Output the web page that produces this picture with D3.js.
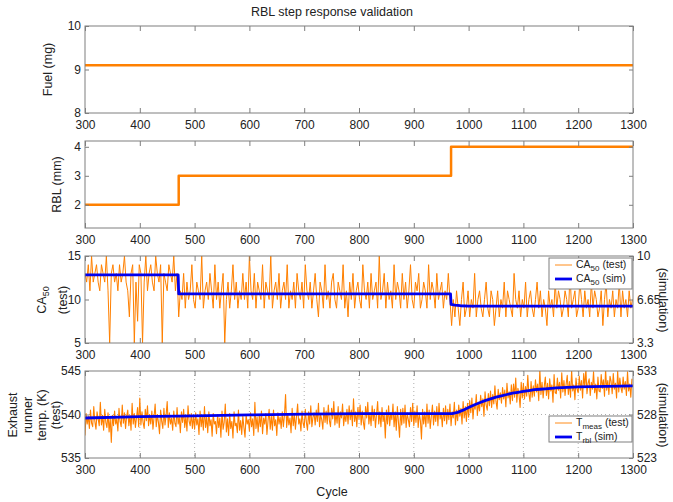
<!DOCTYPE html>
<html>
<head>
<meta charset="utf-8">
<script src="https://cdn.jsdelivr.net/npm/d3@7"></script>
<style>
body { margin: 0; background: #fff; }
svg { font-family: "Liberation Sans", Arial, sans-serif; }
</style>
</head>
<body>
<svg id="chart" width="673" height="502"></svg>
<script>
// tick labels
const xTicks = [300, 400, 500, 600, 700, 800, 900, 1000, 1100, 1200, 1300];
const fuelTicks = [8, 9, 10];
const rblTicks = [2, 3, 4];
const caTicks = [5, 10, 15];
const caSimTicks = [3.3, 6.65, 10];
const tempTicks = [535, 540, 545];
const tempSimTicks = [523, 528, 533];

// fuel and RBL commands
const fuelCycles = [300, 1300];
const fuelValues = [9.1, 9.1];
const rblCycles = [300, 471, 471, 968, 968, 1300];
const rblValues = [2, 2, 3, 3, 4, 4];

// measured CA50, one sample every 3 cycles from 300
const caStep = 3;
const caTest = [
  13, 12, 14, 11, 15, 12, 13, 14, 12, 11,
  14, 13, 12, 15, 11, 5, 13, 14, 12, 13,
  11, 14, 12, 13, 15, 12, 11, 8, 13, 14,
  5, 12, 7.5, 14, 13, 5, 12, 15, 11, 13,
  14, 12, 11, 15, 13, 12, 14, 5, 13, 12,
  11, 14, 13, 12, 15, 11, 13,
  8, 11, 10, 13, 9, 12, 10, 11, 14, 10,
  9, 12, 11, 10, 15, 9, 11, 12, 10, 13,
  11, 9, 14, 10, 12, 9, 11, 13, 5, 10,
  12, 9, 11, 14, 10, 12, 9, 11, 10, 13,
  10, 12, 9, 15, 11, 10, 13, 9, 12, 11,
  10, 14, 9, 12, 11, 10, 15, 9, 11, 12,
  10, 13, 9, 11, 12, 10, 14, 9, 11, 10,
  12, 9, 13, 11, 10, 12, 9, 14, 11, 10,
  12, 9, 11, 13, 10, 8, 12, 11, 9, 14,
  10, 11, 9, 12, 13, 10, 9, 12, 11, 10,
  14, 9, 11, 8, 12, 10, 13, 9, 11, 12,
  10, 9, 14, 11, 10, 12, 9, 13, 10, 11,
  12, 9, 15, 10, 11, 13, 9, 12, 10, 11,
  9, 14, 10, 12, 11, 9, 13, 10, 12, 9,
  11, 14, 10, 9, 12, 11, 13, 9, 10, 12,
  11, 9, 14, 10, 12, 11, 9, 13, 10, 11,
  12, 9, 11, 10, 13, 10,
  7, 10, 8, 11, 9, 7, 10, 12, 8, 9,
  11, 8, 10, 9, 13, 8, 10, 11, 9, 8,
  10, 12, 9, 8, 11, 10, 7, 9, 11, 8,
  10, 9, 12, 8, 11, 10, 9, 8, 13, 10,
  9, 11, 8, 10, 9, 12, 8, 10, 11, 9,
  8, 10, 12, 9, 11, 8, 10, 9, 7, 11,
  9, 10, 8, 12, 9, 11, 10, 8, 9, 11,
  10, 8, 13, 9, 10, 11, 8, 9, 12, 10,
  8, 11, 9, 10, 8, 12, 9, 11, 10, 8,
  9, 11, 7, 10, 12, 8, 10, 9, 11, 8,
  10, 9, 12, 8, 11, 9, 10, 8, 11, 9, 10
];

// measured exhaust runner temperature, one sample every 2 cycles from 300
const tempStep = 2;
const tempTest = [
  537.6, 540.1, 538.9, 539.8, 538.4, 540.5, 539.0, 538.6, 540.9, 539.2,
  538.3, 540.3, 539.5, 538.7, 541.4, 538.8, 539.9, 538.2, 540.6, 539.1,
  538.5, 540.2, 538.0, 539.6, 536.8, 539.9, 538.7, 540.4, 538.9, 539.5,
  538.1, 540.7, 539.2, 538.6, 541.1, 539.0, 540.2, 538.4, 539.8, 540.5,
  538.7, 539.9, 538.2, 541.3, 538.9, 540.1, 538.5, 539.7, 540.8, 538.6,
  541.9, 538.8, 540.3, 539.1, 538.4, 540.6, 539.3, 541.0, 538.7, 540.0,
  538.9, 540.4, 538.3, 539.7, 541.2, 538.6, 540.0, 539.1, 537.8, 540.5,
  539.2, 538.4, 540.7, 538.8, 539.9, 541.5, 538.5, 540.2, 538.9, 539.6,
  538.2, 540.4, 539.0, 538.6, 540.8, 538.9, 539.7, 537.9, 540.3, 539.1,
  540.6, 538.5, 539.8, 538.1, 541.0, 539.2, 538.7, 540.1, 538.4, 539.9,
  538.3, 540.2, 538.8, 539.5, 537.7, 540.4, 538.6, 539.8, 538.2, 540.9,
  538.5, 539.7, 537.9, 540.3, 538.7, 539.4, 537.5, 540.1, 538.9, 539.2,
  537.8, 540.0, 538.5, 539.6, 537.4, 540.4, 538.3, 539.1, 541.2, 538.0,
  539.5, 537.6, 540.1, 538.4, 539.2, 537.3, 540.3, 538.7, 539.0, 537.9,
  540.5, 538.2, 539.3, 537.7, 539.8, 538.5, 537.4, 540.0, 538.9, 539.4,
  538.1, 540.2, 538.6, 539.5, 537.6, 541.4, 538.4, 539.7, 538.0, 539.9,
  538.6, 540.4, 537.8, 539.6, 538.9, 540.1, 537.7, 539.3, 540.6, 538.3,
  539.8, 538.2, 540.5, 538.7, 539.4, 537.6, 540.2, 538.9, 539.7, 538.4,
  540.3, 538.6, 539.9, 542.3, 538.5, 540.1, 538.8, 539.6, 537.9, 540.7,
  538.7, 540.0, 538.3, 539.8, 541.2, 538.9, 539.5, 538.1, 540.4, 539.0,
  538.5, 540.6, 539.1, 538.2, 540.3, 538.9, 541.0, 538.6, 539.7, 540.2,
  538.8, 540.5, 539.2, 541.3, 538.6, 540.0, 539.4, 538.3, 540.8, 539.1,
  540.4, 538.9, 541.1, 539.3, 538.6, 540.7, 539.5, 541.5, 538.8, 540.2,
  539.0, 540.9, 538.5, 540.3, 539.6, 541.2, 538.7, 540.0, 539.2, 540.6,
  538.9, 541.0, 539.4, 540.5, 538.7, 541.8, 539.2, 540.3, 538.6, 540.8,
  539.5, 541.1, 538.8, 540.4, 539.1, 538.3, 540.9, 539.6, 541.4, 538.9,
  540.2, 538.7, 541.0, 539.3, 540.6, 538.5, 540.0, 541.5, 538.9, 540.3,
  538.6, 540.8, 539.2, 540.1, 537.3, 540.5, 538.9, 541.0, 538.7, 540.2,
  539.4, 541.2, 538.6, 540.3, 538.2, 540.9, 539.1, 537.4, 540.6, 538.8,
  540.7, 539.0, 541.1, 538.5, 540.2, 539.4, 538.6, 540.8, 539.2, 541.3,
  538.7, 540.4, 539.1, 541.0, 538.5, 540.1, 539.3, 537.2, 540.6, 538.9,
  540.3, 538.6, 541.2, 539.0, 540.5, 538.4, 539.8, 541.1, 538.8, 540.4,
  539.2, 540.9, 538.7, 541.3, 539.5, 540.2, 538.6, 540.7, 539.3, 541.0,
  538.9, 540.6, 539.4, 541.2, 538.7, 540.3, 539.6, 541.4, 538.8, 540.5,
  539.3, 541.1, 539.8, 540.7, 538.9, 541.5, 539.6, 540.9, 539.2, 541.3,
  539.7, 541.6, 540.2, 541.9, 539.5, 541.2, 540.6, 542.3, 539.9, 541.4,
  540.4, 542.2, 540.9, 541.8, 539.8, 542.6, 541.1, 540.5, 542.4, 541.0,
  542.7, 540.8, 542.3, 541.2, 543.3, 541.5, 540.6, 542.9, 541.7, 542.5,
  541.3, 543.1, 541.8, 542.8, 540.9, 543.6, 541.9, 542.6, 541.2, 543.4,
  541.6, 543.5, 542.0, 544.2, 541.4, 543.0, 542.3, 540.8, 543.7, 541.9,
  543.6, 541.8, 543.2, 542.1, 544.5, 542.4, 541.5, 543.8, 542.0, 543.3,
  542.1, 544.0, 542.6, 543.5, 541.6, 545.2, 542.3, 543.7, 541.9, 543.2,
  544.3, 542.2, 543.6, 541.8, 544.1, 542.7, 543.4, 541.4, 544.6, 542.5,
  542.4, 544.2, 542.8, 543.7, 541.9, 544.8, 542.6, 543.9, 542.2, 543.5,
  544.5, 542.3, 543.8, 542.0, 545.1, 542.7, 543.4, 541.7, 544.2, 542.9,
  542.5, 544.4, 542.8, 543.9, 541.9, 544.7, 543.1, 545.3, 542.4, 543.6,
  544.1, 542.2, 543.7, 542.9, 544.9, 542.5, 543.5, 541.8, 544.3, 542.7,
  542.6, 544.6, 543.0, 544.0, 542.1, 545.2, 542.8, 543.9, 542.3, 544.4,
  543.8, 542.4, 544.7, 542.9, 543.6, 541.9, 545.0, 542.6, 544.2, 543.1,
  542.5, 544.3, 542.9, 543.8, 542.2, 544.9, 542.7, 543.5, 542.0, 544.1
];

// simulated signals (right-hand axes)
const caSimCycles = [300, 470, 471, 967, 968, 975, 985, 1000, 1300];
const caSimValues = [8.55, 8.55, 7.08, 7.08, 6.27, 6.22, 6.17, 6.14, 6.14];
const tempSimCycles = [300, 400, 500, 600, 700, 800, 900, 970, 980, 990, 1000, 1010, 1020, 1030,
  1040, 1050, 1060, 1070, 1080, 1090, 1100, 1110, 1120, 1130, 1140, 1150, 1160, 1170, 1180,
  1190, 1200, 1250, 1300];
const tempSimValues = [527.6, 527.75, 527.85, 527.95, 528.05, 528.1, 528.1, 528.1, 528.25, 528.5,
  528.8, 529.1, 529.35, 529.6, 529.8, 530.0, 530.15, 530.3, 530.45, 530.55, 530.65, 530.75,
  530.85, 530.9, 530.95, 531.0, 531.05, 531.1, 531.12, 531.15, 531.17, 531.24, 531.3];

const orange = "#ff8000";
const blue = "#0000f0";
const frameColor = "#7f7f7f";
const textColor = "#222";

const svg = d3.select("#chart");
const x = d3.scaleLinear().domain([300, 1300]).range([85, 633]);
const panelH = 87;
const caCycles = caTest.map((d, i) => 300 + i * caStep);
const tempCycles = tempTest.map((d, i) => 300 + i * tempStep);

function styleAxis(g) {
    g.select(".domain").remove();
    g.selectAll(".tick line").attr("stroke", frameColor);
    g.selectAll(".tick text").attr("fill", textColor).attr("font-size", 12);
}

function addPanel(top, yDomain, yTicks, rDomain, rTicks) {
    const y = d3.scaleLinear().domain(yDomain).range([top + panelH, top]);
    const yR = rDomain ? d3.scaleLinear().domain(rDomain).range([top + panelH, top]) : y;
    const clipId = "clip" + top;
    svg.append("clipPath").attr("id", clipId)
        .append("rect")
        .attr("x", x.range()[0]).attr("y", top)
        .attr("width", x.range()[1] - x.range()[0]).attr("height", panelH);

    const grid = svg.append("g");
    const plot = svg.append("g").attr("clip-path", `url(#${clipId})`);
    const axes = svg.append("g");

    axes.append("rect")
        .attr("x", x.range()[0]).attr("y", top)
        .attr("width", x.range()[1] - x.range()[0]).attr("height", panelH)
        .attr("fill", "none").attr("stroke", frameColor);

    axes.append("g").attr("transform", `translate(0,${top + panelH})`)
        .call(d3.axisBottom(x).tickValues(xTicks).tickSize(-5).tickPadding(7).tickFormat(d3.format("d")))
        .call(styleAxis);
    axes.append("g").attr("transform", `translate(0,${top})`)
        .call(d3.axisTop(x).tickValues(xTicks).tickSize(-5).tickFormat(""))
        .call(styleAxis);
    axes.append("g").attr("transform", `translate(${x.range()[0]},0)`)
        .call(d3.axisLeft(y).tickValues(yTicks).tickSize(-4).tickPadding(4).tickFormat(d => String(d)))
        .call(styleAxis);
    if (rDomain) {
        axes.append("g").attr("transform", `translate(${x.range()[1]},0)`)
            .call(d3.axisRight(yR).tickValues(rTicks).tickSize(-4).tickPadding(4).tickFormat(d => String(d)))
            .call(styleAxis);
    } else {
        axes.append("g").attr("transform", `translate(${x.range()[1]},0)`)
            .call(d3.axisRight(y).tickValues(yTicks).tickSize(-4).tickFormat(""))
            .call(styleAxis);
    }
    return {y, yR, grid, plot};
}

function drawLine(g, xs, ys, yScale, color, width) {
    const line = d3.line().x(d => x(d[0])).y(d => yScale(d[1]));
    g.append("path")
        .datum(xs.map((c, i) => [c, ys[i]]))
        .attr("d", line)
        .attr("fill", "none")
        .attr("stroke", color)
        .attr("stroke-width", width)
        .attr("stroke-linejoin", "round");
}

// panel 1: fuel
const p1 = addPanel(26, [8, 10], fuelTicks);
drawLine(p1.plot, fuelCycles, fuelValues, p1.y, orange, 2.5);

// panel 2: RBL
const p2 = addPanel(141, [1.2, 4.2], rblTicks);
drawLine(p2.plot, rblCycles, rblValues, p2.y, orange, 2.5);

// panel 3: CA50
const p3 = addPanel(256, [5, 15], caTicks, [3.3, 10], caSimTicks);
drawLine(p3.plot, caCycles, caTest, p3.y, orange, 1);
drawLine(p3.plot, caSimCycles, caSimValues, p3.yR, blue, 2.8);

// panel 4: exhaust temperature
const p4 = addPanel(371, [535, 545], tempTicks, [523, 533], tempSimTicks);
p4.grid.selectAll("line.vgrid")
    .data(xTicks.slice(1, -1))
    .join("line")
    .attr("class", "vgrid")
    .attr("x1", d => x(d)).attr("x2", d => x(d))
    .attr("y1", p4.y.range()[1]).attr("y2", p4.y.range()[0])
    .attr("stroke", "#999").attr("stroke-width", 0.8).attr("stroke-dasharray", "1,3");
p4.grid.selectAll("line.hgrid")
    .data(tempSimTicks.slice(1, -1))
    .join("line")
    .attr("class", "hgrid")
    .attr("x1", x.range()[0]).attr("x2", x.range()[1])
    .attr("y1", d => p4.yR(d)).attr("y2", d => p4.yR(d))
    .attr("stroke", "#999").attr("stroke-width", 0.8).attr("stroke-dasharray", "1,3");
drawLine(p4.plot, tempCycles, tempTest, p4.y, orange, 1.1);
drawLine(p4.plot, tempSimCycles, tempSimValues, p4.yR, blue, 2.8);

// title and axis labels
svg.append("text").attr("x", 332).attr("y", 12).attr("dy", "0.35em")
    .attr("text-anchor", "middle").attr("font-size", 12.5).attr("fill", textColor)
    .text("RBL step response validation");
svg.append("text").attr("x", 332).attr("y", 492).attr("dy", "0.35em")
    .attr("text-anchor", "middle").attr("font-size", 12.5).attr("fill", textColor)
    .text("Cycle");

function yLabel(cx, cy, parts, angle) {
    const t = svg.append("text")
        .attr("transform", `translate(${cx},${cy}) rotate(${angle || -90})`)
        .attr("text-anchor", "middle").attr("dy", "0.35em")
        .attr("font-size", 12.5).attr("fill", textColor);
    parts.forEach(p => {
        if (p.sub) {
            t.append("tspan").attr("dy", 3).attr("font-size", 9).text(p.sub);
            t.append("tspan").attr("dy", -3).text("");
        } else {
            t.append("tspan").text(p.text);
        }
    });
}

yLabel(48, 69.5, [{text: "Fuel (mg)"}]);
yLabel(57, 184.5, [{text: "RBL (mm)"}]);
yLabel(42, 300, [{text: "CA"}, {sub: "50"}]);
yLabel(63, 300, [{text: "(test)"}]);
yLabel(13, 415, [{text: "Exhaust"}]);
yLabel(28, 415, [{text: "runner"}]);
yLabel(42, 415, [{text: "temp. (K)"}]);
yLabel(56, 415, [{text: "(test)"}]);
yLabel(663, 300, [{text: "(simulation)"}], 90);
yLabel(663, 415, [{text: "(simulation)"}], 90);

// legends
function legend(x0, y0, w, h, entries) {
    const g = svg.append("g");
    g.append("rect").attr("x", x0).attr("y", y0).attr("width", w).attr("height", h)
        .attr("fill", "#fff").attr("stroke", frameColor);
    entries.forEach((e, i) => {
        const yy = y0 + 7 + i * 14;
        g.append("line").attr("x1", x0 + 6).attr("x2", x0 + 23).attr("y1", yy).attr("y2", yy)
            .attr("stroke", e.color).attr("stroke-width", e.width);
        const t = g.append("text").attr("x", x0 + 27).attr("y", yy).attr("dy", "0.3em")
            .attr("font-size", 10.5).attr("fill", textColor);
        t.append("tspan").text(e.main);
        t.append("tspan").attr("dy", 3).attr("font-size", 8).text(e.sub);
        t.append("tspan").attr("dy", -3).text(" " + e.tail);
    });
}

legend(549, 258, 83, 31, [
    {main: "CA", sub: "50", tail: "(test)", color: orange, width: 0.9},
    {main: "CA", sub: "50", tail: "(sim)", color: blue, width: 2.8}
]);
legend(549, 416, 83, 26, [
    {main: "T", sub: "meas", tail: "(test)", color: orange, width: 0.9},
    {main: "T", sub: "rbl", tail: "(sim)", color: blue, width: 2.8}
]);
</script>
</body>
</html>
